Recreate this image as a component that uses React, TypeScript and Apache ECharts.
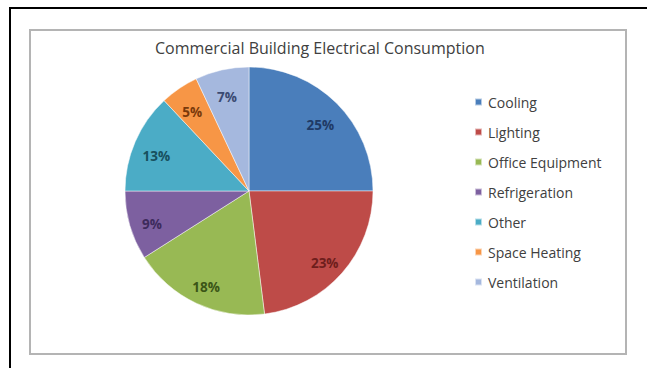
import React, { useEffect, useRef } from "react";
import * as echarts from "echarts";

const title = "Commercial Building Electrical Consumption";
const categories = ["Cooling", "Lighting", "Office Equipment", "Refrigeration", "Other", "Space Heating", "Ventilation"];
const shares = [25, 23, 18, 9, 13, 5, 7];
const sliceColors = ["#4A7EBB", "#BE4B48", "#98B954", "#7D60A0", "#4BACC6", "#F79646", "#A5B8DE"];
const labelColors = ["#1F3A66", "#6E1E1C", "#3B5517", "#3D2B5C", "#17505E", "#7A3A0B", "#3B4A72"];

export default function App() {
  const ref = useRef<HTMLDivElement>(null);
  useEffect(() => {
    if (!ref.current) return;
    const chart = echarts.init(ref.current, undefined, { renderer: "svg" });
    const font = "'Open Sans', 'Noto Sans', sans-serif";
    const center = [249, 191];
    const R = 124;
    chart.setOption({
      animation: false,
      backgroundColor: "#ffffff",
      textStyle: { fontFamily: font },
      title: {
        text: title,
        left: 155,
        top: 40,
        padding: 0,
        textStyle: { fontFamily: font, fontSize: 16, fontWeight: "normal", color: "#404040" },
      },
      legend: {
        orient: "vertical",
        left: 469,
        top: 90,
        itemWidth: 7,
        itemHeight: 7,
        itemGap: 16,
        icon: "rect",
        data: categories,
        textStyle: { fontFamily: font, fontSize: 14, lineHeight: 14, color: "#404040", padding: [0, 0, 0, 1] },
      },
      graphic: [
        { type: "line", shape: { x1: 9, y1: 8, x2: 647, y2: 8 }, style: { stroke: "#000", lineWidth: 2 } },
        { type: "line", shape: { x1: 10, y1: 7, x2: 10, y2: 368 }, style: { stroke: "#000", lineWidth: 2 } },
        {
          type: "rect",
          shape: { x: 30, y: 30, width: 596, height: 324 },
          style: { fill: "none", stroke: "#b4b4b4", lineWidth: 2 },
          z: -1,
        },
      ],
      series: [
        {
          type: "pie",
          center,
          radius: [0, R],
          startAngle: 90,
          clockwise: true,
          label: { show: false },
          labelLine: { show: false },
          itemStyle: { borderColor: "rgba(255,255,255,0.6)", borderWidth: 0.8 },
          emphasis: { disabled: true },
          data: categories.map((name, i) => ({ name, value: shares[i], itemStyle: { color: sliceColors[i] } })),
        },
        {
          type: "pie",
          center: [249, 196],
          radius: [R * 0.6, R * 0.98],
          startAngle: 90,
          clockwise: true,
          silent: true,
          emphasis: { disabled: true },
          labelLine: { show: false },
          itemStyle: { color: "rgba(0,0,0,0)", borderWidth: 0 },
          label: {
            show: true,
            position: "inside",
            fontFamily: font,
            fontSize: 13.5,
            fontWeight: "bold",
            formatter: (p: any) => `${p.value}%`,
          },
          data: categories.map((name, i) => ({
            name,
            value: shares[i],
            label: { color: labelColors[i] },
          })),
        },
      ],
    });
    return () => chart.dispose();
  }, []);
  return <div ref={ref} style={{ position: "absolute", left: 0, top: 0, width: 647, height: 368 }} />;
}
